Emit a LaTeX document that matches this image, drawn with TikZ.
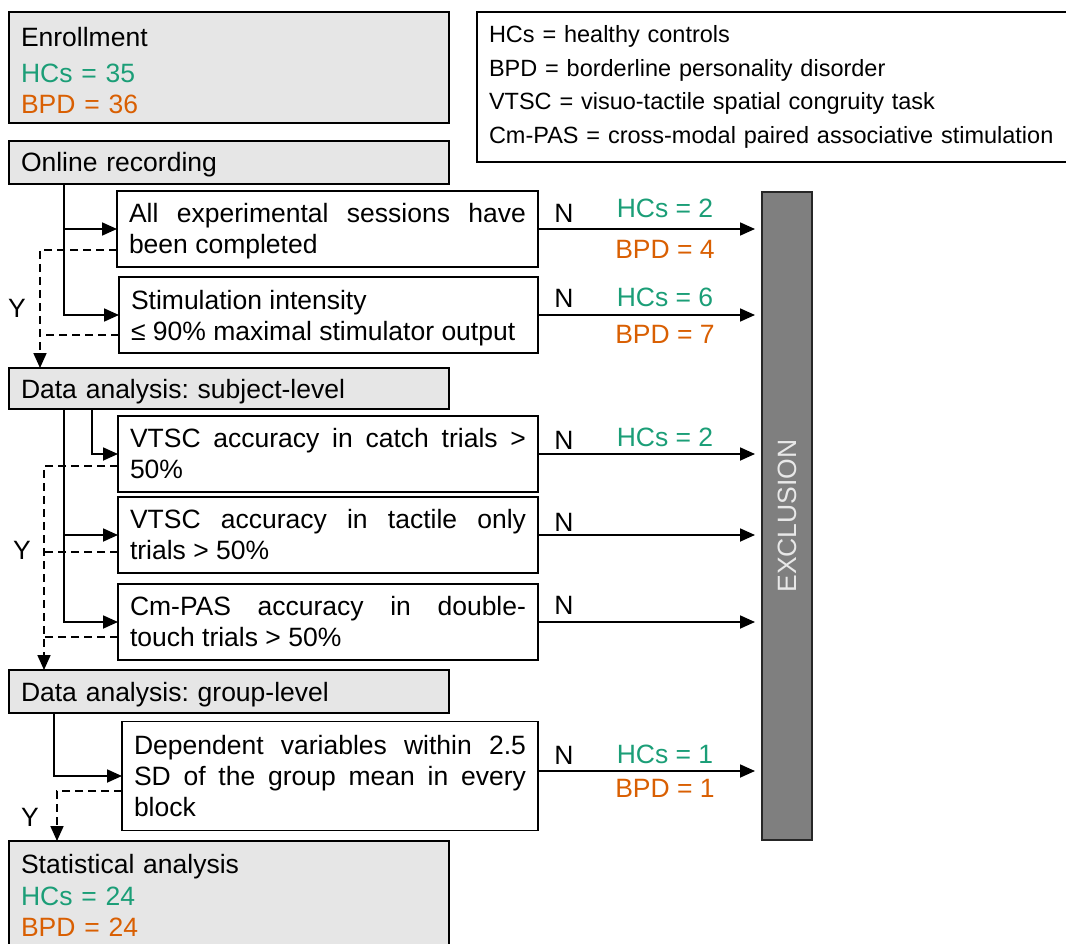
\documentclass[tikz,border=0pt]{standalone}
\usepackage{fontspec}
\setmainfont{Liberation Sans}
\usetikzlibrary{arrows.meta}
\definecolor{hc}{HTML}{1B9E77}
\definecolor{bpd}{HTML}{D95F02}
\definecolor{boxgray}{HTML}{E6E6E6}
\definecolor{bargray}{HTML}{7F7F7F}
\definecolor{bartext}{HTML}{E8E8E8}
\newcommand\toprule{\rule{0pt}{24.5pt}}
\frenchspacing
\hyphenpenalty=10000
\begin{document}
\begin{tikzpicture}[x=1pt,y=-1pt,
  font=\fontsize{26.5}{31}\selectfont,
  every node/.style={outer sep=0pt},
  gbox/.style={draw=black, line width=1.8pt, fill=boxgray, inner xsep=12pt, inner ysep=0pt, text width=416pt, align=left},
  wbox/.style={draw=black, line width=1.8pt, fill=white, inner xsep=12pt, inner ysep=0pt, align=justify, minimum height=76pt},
  conn/.style={line width=1.8pt},
  arr/.style={conn, -{Triangle[length=15pt,width=13pt]}},
  dsh/.style={conn, dash pattern=on 8pt off 5pt},
  darr/.style={dsh, -{Triangle[length=15pt,width=13pt]}},
  hcl/.style={text=hc},
  bpdl/.style={text=bpd},
  lbl/.style={inner sep=0pt}
]
\useasboundingbox (0,0) rectangle (1066,944);
\clip (0,0) rectangle (1066,944);

% legend
\node[draw=black, line width=1.8pt, anchor=north west, minimum height=150pt, text width=600pt, inner xsep=12pt, inner ysep=0pt, align=left, font=\fontsize{23.5}{33.8}\selectfont] (leg) at (477,12)
 {HCs = healthy controls\\BPD = borderline personality disorder\\VTSC = visuo-tactile spatial congruity task\\Cm-PAS = cross-modal paired associative stimulation};

% left column boxes
\node[gbox, minimum height=111pt] (enr) at (229,67.5)
 {\toprule Enrollment\\[5pt]\textcolor{hc}{HCs = 35}\\\textcolor{bpd}{BPD = 36}};
\node[gbox, minimum height=43pt] (onl) at (229,162.5) {\toprule Online recording};
\node[wbox, text width=397pt] (A) at (327.5,229) {\toprule All experimental sessions have\linebreak been completed};
\node[wbox, text width=395pt] (B) at (328.5,315) {\toprule Stimulation intensity\\≤ 90\% maximal stimulator output};
\node[gbox, minimum height=41pt] (sub) at (229,388.5) {\toprule Data analysis: subject-level};
\node[wbox, text width=396pt] (C) at (328,454) {VTSC accuracy in catch trials >\linebreak 50\%};
\node[wbox, text width=396pt] (D) at (328,535) {VTSC accuracy in tactile only\linebreak trials > 50\%};
\node[wbox, text width=396pt] (E) at (328,622) {Cm-PAS accuracy in double-\linebreak touch trials > 50\%};
\node[gbox, minimum height=43pt] (grp) at (229,691.5) {\toprule Data analysis: group-level};
\node[wbox, text width=392pt, minimum height=109pt] (F) at (330,776) {Dependent variables within 2.5\linebreak SD of the group mean in every\linebreak block};
\node[gbox, anchor=north west, inner ysep=13pt] (stat) at (9,841)
 {Statistical analysis\\[1pt]\textcolor{hc}{HCs = 24}\\\textcolor{bpd}{BPD = 24}};

% exclusion bar
\node[draw=black!85, line width=1.8pt, fill=bargray, minimum width=50pt, minimum height=648pt, inner sep=0pt] (bar) at (787,516) {};
\node[rotate=90, text=bartext, inner sep=0pt] (excl) at (bar.center) {EXCLUSION};

% online recording connectors
\coordinate (j1) at (64,184);
\draw[arr] (j1) |- (B.west);
\draw[arr] (j1 |- A.west) -- (A.west);
\coordinate (ya) at (40,250);
\coordinate (yb) at (40,335);
\draw[darr] (A.west |- ya) -- (ya) -- (ya |- sub.north);
\draw[dsh] (B.west |- yb) -- (yb);
\node[lbl] (y1) at (17,308) {Y};

% subject-level connectors
\coordinate (j2) at (64,409);
\coordinate (j3) at (92,409);
\draw[arr] (j2) |- (E.west);
\draw[arr] (j2 |- D.west) -- (D.west);
\draw[arr] (j3) |- (C.west);
\coordinate (yc) at (44,466);
\coordinate (yd) at (44,552);
\coordinate (ye) at (44,637);
\draw[darr] (C.west |- yc) -- (yc) -- (yc |- grp.north);
\draw[dsh] (D.west |- yd) -- (yd);
\draw[dsh] (E.west |- ye) -- (ye);
\node[lbl] (y2) at (22,550) {Y};

% group-level connectors
\coordinate (j4) at (54,713);
\draw[arr] (j4) |- (F.west);
\coordinate (yf) at (57,791);
\draw[darr] (F.west |- yf) -- (yf) -- (yf |- stat.north);
\node[lbl] (y3) at (30,817) {Y};

% exclusion arrows
\draw[arr, shorten >=7pt] (A.east) -- (A.east -| bar.west);
\draw[arr, shorten >=7pt] (B.east) -- (B.east -| bar.west);
\draw[arr, shorten >=7pt] (C.east) -- (C.east -| bar.west);
\draw[arr, shorten >=7pt] (D.east) -- (D.east -| bar.west);
\draw[arr, shorten >=7pt] (E.east) -- (E.east -| bar.west);
\coordinate (fo) at (538,771);
\draw[arr, shorten >=7pt] (fo) -- (fo -| bar.west);

% labels on exclusion arrows
\node[lbl] (nA) at (564,213) {N};
\node[lbl] (nB) at (564,298) {N};
\node[lbl] (nC) at (564,440) {N};
\node[lbl] (nD) at (564,522) {N};
\node[lbl] (nE) at (564,605) {N};
\node[lbl] (nF) at (564,755) {N};
\node[lbl, hcl] (hA) at (665,208) {HCs = 2};
\node[lbl, bpdl] (bA) at (665,249) {BPD = 4};
\node[lbl, hcl] (hB) at (665,297) {HCs = 6};
\node[lbl, bpdl] (bB) at (665,334) {BPD = 7};
\node[lbl, hcl] (hC) at (665,437) {HCs = 2};
\node[lbl, hcl] (hF) at (665,754) {HCs = 1};
\node[lbl, bpdl] (bF) at (665,788) {BPD = 1};
\end{tikzpicture}
\end{document}
